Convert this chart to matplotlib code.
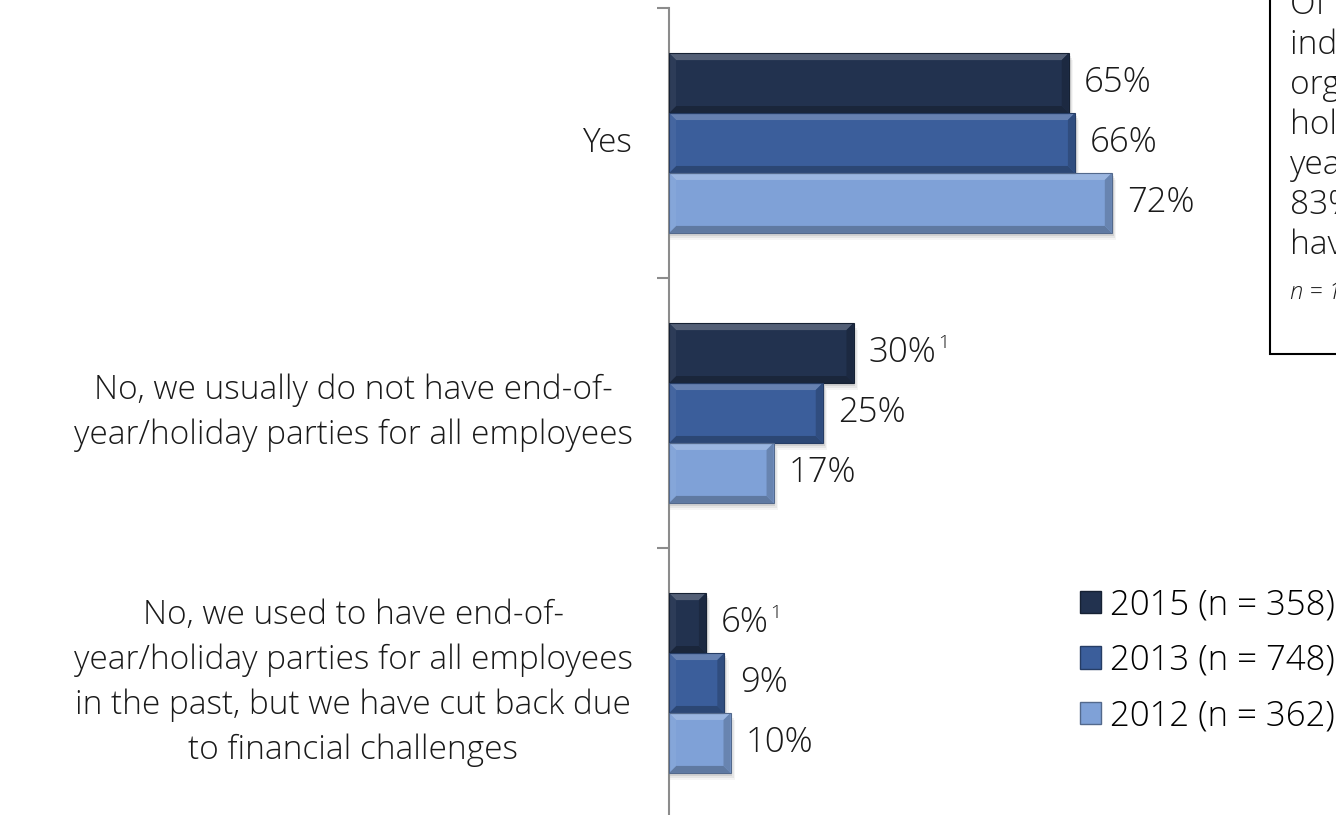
import numpy as np
import matplotlib
matplotlib.use('Agg')
import matplotlib.pyplot as plt
from matplotlib.patches import Polygon, Rectangle, Patch
import matplotlib.colors as mcolors

plt.rcParams['font.family'] = ['Open Sans', 'DejaVu Sans']
plt.rcParams['font.weight'] = 300

categories = ['Yes',
              'No, we usually do not have end-of-\nyear/holiday parties for all employees',
              'No, we used to have end-of-\nyear/holiday parties for all employees\nin the past, but we have cut back due\nto financial challenges']
years = ['2015 (n = 358)', '2013 (n = 748)', '2012 (n = 362)']
v2015 = [65, 30, 6]
v2013 = [66, 25, 9]
v2012 = [72, 17, 10]
footnote_2015 = [False, True, True]

series = [v2015, v2013, v2012]
colors = ['#22324f', '#3b5e9b', '#7fa1d7']

note_lines = ['Of those HR professionals who',
              'indicated their',
              'organization does not have',
              'holiday parties this',
              'year,',
              '83% said they do not',
              'have them at all.']
note_n = 'n = 125'

W, H = 1336, 815
fig = plt.figure(figsize=(W / 100, H / 100), dpi=100)
ax = fig.add_axes([669 / W, (H - 818) / H, 615 / W, 810 / H])
ax.set_xlim(0, 100)
ax.set_ylim(2.5, -0.5)

bh = 0.222
px_x = 100 / 615.0   # data units per pixel
px_y = 1 / 270.0
fs = 24
fs_val = 25


def shade(c, f):
    r, g, b = mcolors.to_rgb(c)
    if f > 0:
        return (r + (1 - r) * f, g + (1 - g) * f, b + (1 - b) * f)
    return (r * (1 + f), g * (1 + f), b * (1 + f))


def bevel(x1, y0, y1, c):
    # soft shadow under the bar
    for k, a in [(7, 0.04), (5, 0.06), (3, 0.09)]:
        ax.add_patch(Rectangle((0, y0 + k * px_y), x1 + k * px_x * 0.6, y1 - y0,
                               facecolor='black', alpha=a, lw=0, zorder=1))
    bx, by = 7 * px_x, 7 * px_y
    bx = min(bx, x1 / 3)
    top = [(0, y0), (x1, y0), (x1 - bx, y0 + by), (0 + bx, y0 + by)]
    bot = [(0, y1), (x1, y1), (x1 - bx, y1 - by), (0 + bx, y1 - by)]
    right = [(x1, y0), (x1, y1), (x1 - bx, y1 - by), (x1 - bx, y0 + by)]
    left = [(0, y0), (0, y1), (bx, y1 - by), (bx, y0 + by)]
    for pts, f in [(top, 0.22), (bot, -0.25), (right, -0.18), (left, 0.05)]:
        ax.add_patch(Polygon(pts, closed=True, facecolor=shade(c, f), lw=0, zorder=3))
    ax.add_patch(Rectangle((0, y0), x1, y1 - y0, facecolor='none',
                           edgecolor=shade(c, -0.35), lw=0.8, zorder=4))


y = np.arange(len(categories))
for i, (vals, c) in enumerate(zip(series, colors)):
    pos = y + (i - 1) * bh
    bars = ax.barh(pos, vals, height=bh, color=c, lw=0, zorder=2)
    for j, b in enumerate(bars):
        v = vals[j]
        bevel(b.get_width(), b.get_y(), b.get_y() + b.get_height(), c)
        t = ax.annotate(f'{v}%', (v, pos[j]), xytext=(11, 0), textcoords='offset points',
                        va='center', ha='left', fontsize=fs_val, color='#1a1a1a')
        if i == 0 and footnote_2015[j]:
            ax.annotate('1', xy=(1, 1), xycoords=t, xytext=(1, 1),
                        textcoords='offset points', va='top', ha='left',
                        fontsize=14, color='#1a1a1a')

for s in ['top', 'right', 'bottom']:
    ax.spines[s].set_visible(False)
ax.spines['left'].set_color('#8c8c8c')
ax.spines['left'].set_linewidth(1.5)
ax.set_xticks([])
ax.set_yticks([-0.5, 0.5, 1.5, 2.5])
ax.set_yticklabels([])
ax.tick_params(axis='y', which='major', length=9, width=1.5, color='#8c8c8c')
ax.set_yticks(y, categories, minor=True)
ax.tick_params(axis='y', which='minor', length=0, pad=26, labelsize=fs)
for lab in ax.get_yticklabels(minor=True):
    lab.set_multialignment('center')
    lab.set_linespacing(1.45)
    lab.set_verticalalignment('center')
    lab.set_color('#1a1a1a')

handles = [Patch(facecolor=c, edgecolor=shade(c, -0.35)) for c in colors]
fig.legend(handles, years, loc='upper left', bbox_to_anchor=(1066 / W, 1 - 574 / H),
           frameon=False, fontsize=fs_val, handlelength=0.6, handleheight=0.6,
           handletextpad=0.28, labelspacing=0.6, borderaxespad=0)

# note box on the right
fig.patches.append(Rectangle((1270 / W, 1 - 354 / H), 200 / W, 400 / H,
                             transform=fig.transFigure, facecolor='white',
                             edgecolor='black', lw=1.5))
for k, line in enumerate(note_lines):
    fig.text(1290 / W, 1 - (5 + 40 * k) / H, line, fontsize=fs, va='center',
             ha='left', color='#1a1a1a')
fig.text(1290 / W, 1 - 293 / H, note_n, fontsize=17, style='italic', va='center',
         ha='left', color='#1a1a1a')

fig.savefig('out.png', dpi=100)
